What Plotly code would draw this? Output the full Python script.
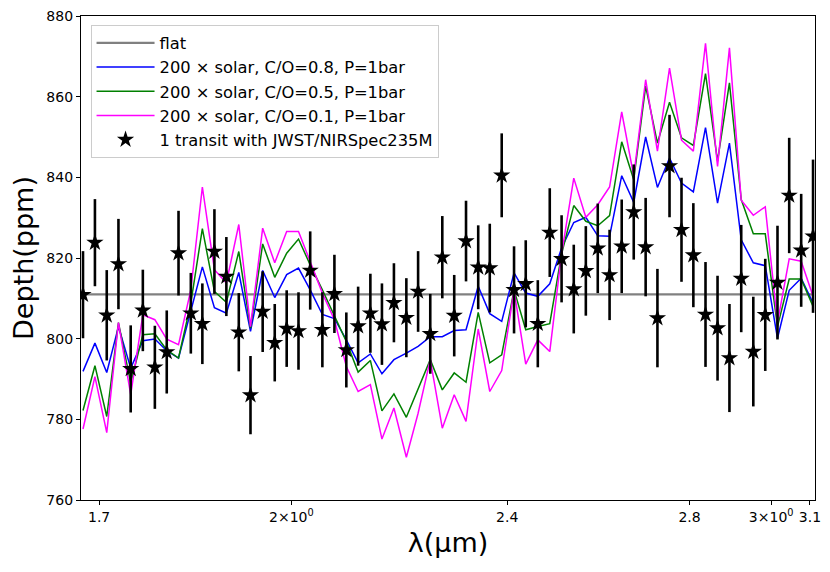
import plotly.graph_objects as go

# wavelength grid (micron) shared by the data points and the model curves
wavelength = [
    1.677, 1.694, 1.711, 1.728, 1.746, 1.764, 1.782, 1.800, 1.818, 1.837,
    1.855, 1.874, 1.893, 1.913, 1.932, 1.952, 1.972, 1.992, 2.012, 2.032,
    2.053, 2.074, 2.095, 2.116, 2.138, 2.159, 2.181, 2.204, 2.226, 2.249,
    2.272, 2.295, 2.318, 2.342, 2.365, 2.389, 2.414, 2.438, 2.463, 2.488,
    2.513, 2.539, 2.565, 2.591, 2.617, 2.644, 2.671, 2.698, 2.725, 2.753,
    2.781, 2.809, 2.838, 2.867, 2.896, 2.925, 2.955, 2.985, 3.016, 3.046,
    3.077, 3.108,
]

# simulated JWST/NIRSpec points (ppm)
depth = [
    810.9, 823.8, 805.8, 818.5, 792.5, 807.0, 792.9, 796.7, 821.2, 806.3,
    803.7, 821.6, 815.4, 801.6, 786.0, 806.7, 799.0, 802.5, 801.9, 816.9,
    802.2, 811.1, 797.2, 803.1, 806.3, 803.6, 808.9, 805.2, 811.7, 801.2,
    820.2, 805.7, 824.2, 817.7, 817.5, 840.5, 812.1, 813.6, 803.7, 826.3,
    819.8, 812.3, 816.8, 822.4, 815.8, 822.9, 831.4, 822.7, 805.1, 842.8,
    827.0, 820.7, 806.0, 802.6, 795.2, 814.9, 796.8, 805.9, 813.9, 835.5,
    821.9, 825.4,
]
depth_err = [
    10.8, 10.8, 11.2, 11.2, 10.8, 10.1, 10.3, 10.3, 10.5, 10.0,
    10.0, 10.5, 9.8, 9.7, 9.7, 10.0, 9.6, 9.5, 9.6, 9.7,
    9.3, 9.7, 9.3, 9.8, 9.8, 10.1, 9.8, 9.8, 10.0, 9.9,
    10.2, 10.1, 10.0, 10.4, 11.0, 10.4, 10.8, 10.8, 10.8, 11.0,
    10.8, 11.0, 11.1, 11.1, 11.2, 11.6, 11.8, 12.2, 12.2, 12.7,
    12.9, 12.9, 13.0, 13.0, 13.4, 13.3, 13.6, 13.9, 14.1, 14.3,
    14.0, 19.0,
]

# model spectra
model_co08 = [
    791.9, 798.9, 791.6, 803.0, 792.7, 799.5, 799.9, 797.0, 795.2, 807.2,
    817.8, 807.7, 806.3, 816.4, 801.8, 816.9, 810.2, 815.9, 817.5, 812.1,
    806.0, 805.0, 799.7, 794.0, 796.2, 791.3, 794.8, 796.4, 798.1, 800.5,
    800.5, 802.0, 802.2, 813.0, 806.2, 804.3, 816.3, 811.3, 810.5, 813.6,
    822.5, 828.8, 830.1, 825.5, 825.4, 840.4, 833.8, 850.0, 837.5, 844.8,
    838.6, 836.4, 852.3, 833.6, 848.5, 824.5, 818.8, 818.1, 800.1, 812.0,
    815.0, 808.8,
]
model_co05 = [
    782.2, 793.3, 780.7, 804.0, 789.0, 801.0, 801.2, 797.2, 795.2, 808.8,
    827.3, 811.7, 809.0, 821.6, 802.6, 823.5, 815.2, 821.2, 824.7, 818.3,
    812.1, 805.5, 799.3, 791.7, 794.6, 782.1, 786.3, 780.5, 787.3, 794.8,
    787.3, 791.5, 789.2, 806.5, 794.0, 796.0, 812.1, 802.2, 803.0, 803.7,
    821.0, 833.0, 829.1, 828.0, 830.5, 848.8, 839.4, 862.6, 848.5, 858.6,
    849.8, 847.9, 865.7, 844.0, 863.4, 834.5, 826.0, 826.0, 803.0, 814.8,
    814.8, 808.0,
]
model_co01 = [
    777.6, 790.6, 776.7, 804.0, 786.1, 805.9, 804.7, 799.9, 798.5, 812.1,
    837.6, 817.1, 813.8, 828.3, 803.0, 827.4, 818.8, 826.6, 826.6, 819.2,
    811.3, 804.7, 793.1, 786.9, 788.6, 775.1, 782.8, 770.6, 781.5, 794.8,
    777.8, 786.1, 779.5, 802.4, 786.9, 792.1, 812.0, 793.7, 799.7, 796.8,
    821.0, 839.8, 830.1, 833.2, 837.6, 856.2, 840.3, 864.2, 846.5, 867.1,
    849.2, 846.5, 873.2, 842.7, 872.1, 834.3, 830.6, 832.7, 804.0, 819.8,
    819.2, 810.5,
]
flat_depth = 811.0

x_tickvals = [1.7, 2.0, 2.4, 2.8, 3.0, 3.1]
x_ticktext = ["1.7", "2\u00d710<sup>0</sup>", "2.4", "2.8", "3\u00d710<sup>0</sup>", "3.1"]
y_tickvals = [760, 780, 800, 820, 840, 860, 880]

fig = go.Figure()

fig.add_trace(go.Scatter(
    x=[wavelength[0], wavelength[-1]], y=[flat_depth, flat_depth], name="flat",
    mode="lines", line=dict(color="#808080", width=2.2),
))

models = [
    (model_co08, "#0000ff", "200 \u00d7 solar, C/O=0.8, P=1bar"),
    (model_co05, "#008000", "200 \u00d7 solar, C/O=0.5, P=1bar"),
    (model_co01, "#ff00ff", "200 \u00d7 solar, C/O=0.1, P=1bar"),
]
for vals, color, label in models:
    fig.add_trace(go.Scatter(
        x=wavelength, y=vals, name=label, mode="lines",
        line=dict(color=color, width=1.5),
    ))

fig.add_trace(go.Scatter(
    x=wavelength, y=depth, name="1 transit with JWST/NIRSpec235M",
    mode="markers",
    marker=dict(symbol="star", size=13, color="black"),
    error_y=dict(type="data", array=depth_err, color="black", thickness=2.6, width=0),
))

# the page body keeps an 8px margin, so the figure is sized to fit after it
fig.update_layout(
    width=822, height=564,
    paper_bgcolor="white", plot_bgcolor="white",
    margin=dict(l=73, r=15, t=8, b=72),
    font=dict(family="DejaVu Sans", color="black", size=14),
    showlegend=True,
    legend=dict(
        x=0.013, y=0.982, xanchor="left", yanchor="top",
        bgcolor="rgba(255,255,255,0.85)", bordercolor="#cccccc", borderwidth=1,
        font=dict(size=16.3), tracegroupgap=0, itemwidth=58,
    ),
)

fig.update_xaxes(
    type="log", range=[0.2238, 0.4932], automargin=False,
    tickvals=x_tickvals, ticktext=x_ticktext, ticklabeloverflow="allow",
    ticks="outside", ticklen=4, tickwidth=1, tickcolor="black",
    showline=True, linecolor="black", linewidth=1.2, mirror=True,
    showgrid=False, zeroline=False,
    title=dict(text="\u03bb(\u03bcm)", font=dict(size=27), standoff=9),
)
fig.update_yaxes(
    range=[760, 880], tickvals=y_tickvals, automargin=False,
    ticklabeloverflow="allow",
    ticks="outside", ticklen=4, tickwidth=1, tickcolor="black",
    showline=True, linecolor="black", linewidth=1.2, mirror=True,
    showgrid=False, zeroline=False,
    title=dict(text="Depth(ppm)", font=dict(size=27), standoff=8),
)

fig.write_html("out.html")
